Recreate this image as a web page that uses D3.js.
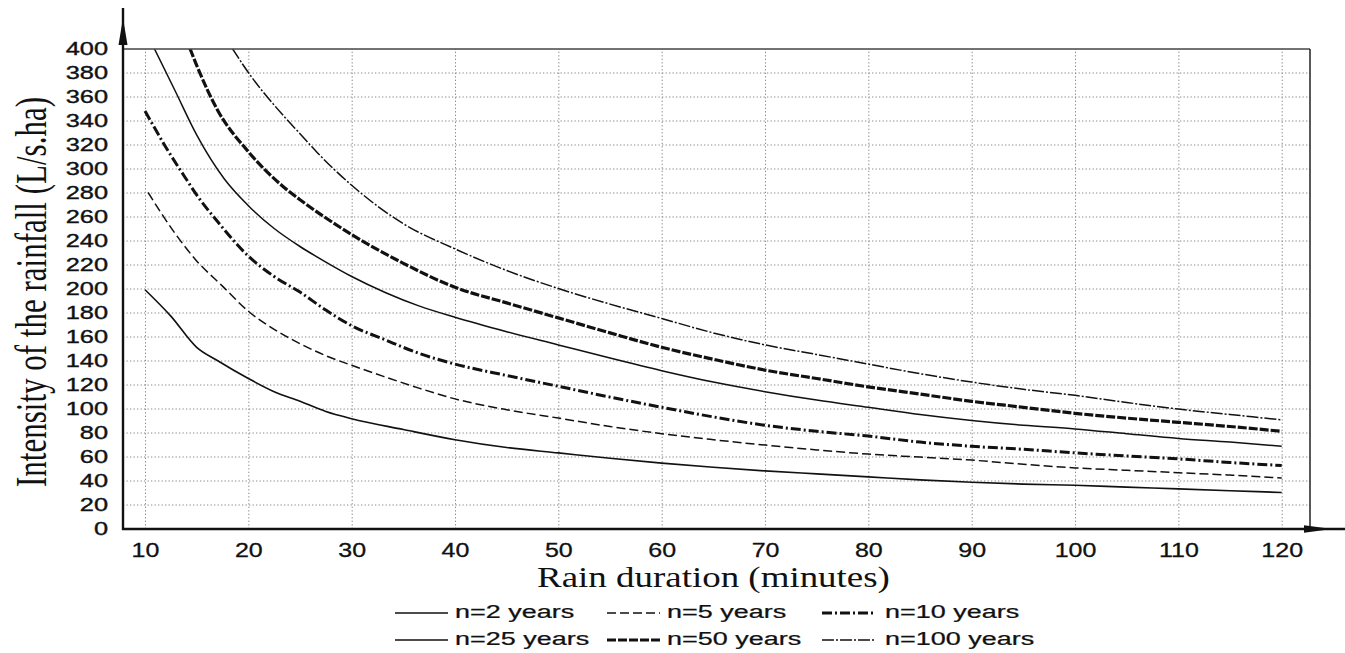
<!DOCTYPE html>
<html><head><meta charset="utf-8">
<script src="https://cdn.jsdelivr.net/npm/d3@7"></script>
<style>html,body{margin:0;padding:0;background:#fff;overflow:hidden}</style>
</head><body>
<svg id="c" width="1345" height="653"></svg>
<script>
// ---------- data ----------
const durationTicks = [10, 20, 30, 40, 50, 60, 70, 80, 90, 100, 110, 120];
const intensityTicks = [0, 20, 40, 60, 80, 100, 120, 140, 160, 180, 200, 220, 240, 260, 280, 300, 320, 340, 360, 380, 400];
const seriesNames = ["n=2 years", "n=5 years", "n=10 years", "n=25 years", "n=50 years", "n=100 years"];
const xTitle = "Rain duration (minutes)";
const yTitle = "Intensity of the rainfall (L/s.ha)";

const t2 = [10, 12.5, 15, 17, 20, 22.5, 25, 27.5, 30, 35, 40, 45, 50, 55, 60, 65, 70, 75, 80, 85, 90, 95, 100, 105, 110, 115, 120];
const v2 = [199, 177, 151, 140, 125, 114, 106, 97.5, 91.5, 82.5, 74, 67.5, 63, 58.5, 54.5, 51, 48, 45.5, 43, 40.5, 38.5, 37, 36, 34.5, 33, 31.5, 30];

const t5 = [10.3, 12.9, 15, 17.5, 20, 22.5, 25, 27.5, 30, 33, 36.5, 40, 45, 50, 55, 60, 65, 70, 75, 80, 85, 90, 95, 100, 105, 110, 115, 120];
const v5 = [280, 246, 223, 202, 181, 166, 154, 144, 136, 127, 117, 108, 99, 92, 85, 79, 74, 69.5, 65.5, 62, 59.5, 57, 53.5, 50.5, 48.5, 46.5, 44.5, 42];

const t10 = [10, 12, 14, 15, 17, 20, 22.5, 25, 27.5, 30, 33.3, 36.5, 40, 45, 50, 55, 60, 65, 70, 75, 80, 85, 90, 95, 100, 105, 110, 115, 120];
const v10 = [348, 318, 291, 278, 256, 227, 210, 197, 182, 169, 157, 146, 137, 127.5, 118.5, 109.5, 101, 93, 86, 81, 77, 72, 68.5, 66, 63, 60.5, 58, 55, 52.5];

const t25 = [10.9, 12.9, 15, 17.7, 20, 22.5, 25, 27.5, 30, 33.3, 36.5, 40, 45, 50, 55, 60, 65, 70, 75, 80, 85, 90, 95, 100, 105, 110, 115, 120];
const v25 = [400, 365, 328, 291, 269, 250, 235, 222, 210, 196.5, 185.5, 176, 164, 153, 142, 131.5, 122, 114, 107, 101, 95, 90, 86, 83, 79, 75, 72, 68.5];

const t50 = [14.35, 15, 17, 20, 23.5, 25, 30, 35, 40, 45, 50, 55, 60, 65, 70, 75, 80, 85, 90, 95, 100, 105, 110, 115, 120];
const v50 = [400, 386, 349, 314, 284, 274, 245, 221, 201, 188, 175.5, 163, 151, 141, 132, 125, 118, 112, 106, 101, 96, 92, 88.5, 85, 81];

const t100 = [18.45, 20, 23.5, 25, 26.7, 30, 35, 40, 45, 50, 55, 60, 65, 70, 75, 80, 85, 90, 95, 100, 105, 110, 115, 120];
const v100 = [400, 380, 343, 329, 313, 286, 254, 233, 215, 200, 187, 175, 163, 153, 145, 137, 129, 122, 116, 111, 105, 99.5, 95, 90.5];

const seriesT = [t2, t5, t10, t25, t50, t100];
const seriesV = [v2, v5, v10, v25, v50, v100];

// ---------- styles ----------
const styles = [
  {w: 1.6, dash: null},
  {w: 1.5, dash: "9,4"},
  {w: 3.0, dash: "10,3,2,3"},
  {w: 1.5, dash: null},
  {w: 3.2, dash: "9,2"},
  {w: 1.5, dash: "12,2,2,2"}
];

const SANS = "'Liberation Sans', Arial, sans-serif";
const SERIF = "'Liberation Serif', 'Times New Roman', serif";
const INK = "#111";

const svg = d3.select("#c");
const L = 123, R = 1310, T = 49, B = 529;
const x = d3.scaleLinear().domain([10, 120]).range([145, 1281.7]);
const y = d3.scaleLinear().domain([0, 400]).range([528.5, 48.5]);

// ---------- grid ----------
svg.append("g")
  .attr("transform", `translate(0,${B})`)
  .call(d3.axisBottom(x).tickValues(durationTicks).tickSize(-(B - T)).tickFormat(""))
  .call(g => {
    g.select(".domain").remove();
    g.selectAll("line").attr("stroke", "#888").attr("stroke-width", 1).attr("stroke-dasharray", "1.3,2.2");
  });
svg.append("g")
  .attr("transform", `translate(${L},0)`)
  .call(d3.axisLeft(y).tickValues(intensityTicks.filter(v => v > 0 && v < 400)).tickSize(-(R - L)).tickFormat(""))
  .call(g => {
    g.select(".domain").remove();
    g.selectAll("line").attr("stroke", "#888").attr("stroke-width", 1).attr("stroke-dasharray", "1.3,2.2");
  });

// ---------- curves ----------
svg.append("clipPath").attr("id", "plot").append("rect")
  .attr("x", L).attr("y", T).attr("width", R - L).attr("height", B - T);

const line = d3.line().x(d => x(d[0])).y(d => y(d[1])).curve(d3.curveMonotoneX);
const curves = svg.append("g").attr("clip-path", "url(#plot)");
seriesT.forEach((ts, i) => {
  const pts = ts.map((t, k) => [t, seriesV[i][k]]);
  curves.append("path")
    .attr("d", line(pts))
    .attr("fill", "none")
    .attr("stroke", INK)
    .attr("stroke-width", styles[i].w)
    .attr("stroke-dasharray", styles[i].dash)
    .attr("stroke-linejoin", "round");
});

// ---------- frame ----------
svg.append("line").attr("x1", L).attr("x2", R).attr("y1", T).attr("y2", T)
  .attr("stroke", "#444").attr("stroke-width", 1.5);
svg.append("line").attr("x1", R).attr("x2", R).attr("y1", T).attr("y2", B)
  .attr("stroke", "#222").attr("stroke-width", 1.5);
// y axis with arrow
svg.append("line").attr("x1", L).attr("x2", L).attr("y1", 8).attr("y2", B + 1)
  .attr("stroke", INK).attr("stroke-width", 2.4);
svg.append("path").attr("d", `M${L},18 L${L - 4.5},45 L${L + 4.5},45 Z`).attr("fill", INK);
// x axis with arrow
svg.append("line").attr("x1", L - 1).attr("x2", 1345).attr("y1", B).attr("y2", B)
  .attr("stroke", INK).attr("stroke-width", 2.4);
svg.append("path").attr("d", `M1304,${B - 3.8} L1332,${B} L1304,${B + 3.8} Z`).attr("fill", INK);

// ---------- tick labels ----------
svg.append("g")
  .attr("transform", `translate(108,0)`)
  .call(d3.axisLeft(y).tickValues(intensityTicks).tickSize(0).tickPadding(0))
  .call(g => {
    g.select(".domain").remove();
    g.selectAll("text")
      .attr("x", 0).attr("dy", "0.36em")
      .attr("transform", "scale(1.45,1)")
      .attr("font-family", SANS).attr("font-size", 17.5).attr("fill", INK)
      .attr("stroke", INK).attr("stroke-width", 0.35)
      .attr("text-anchor", "end");
  });

svg.append("g")
  .attr("transform", `translate(0,557)`)
  .call(d3.axisBottom(x).tickValues(durationTicks).tickSize(0).tickPadding(0))
  .call(g => {
    g.select(".domain").remove();
    g.selectAll("text")
      .attr("y", 0).attr("dy", 0)
      .attr("transform", "scale(1.25,1)")
      .attr("font-family", SANS).attr("font-size", 20).attr("fill", INK)
      .attr("stroke", INK).attr("stroke-width", 0.3)
      .attr("text-anchor", "middle");
  });

// ---------- titles ----------
const xt = svg.append("text")
  .attr("font-family", SERIF).attr("font-size", 30).attr("fill", INK)
  .attr("text-anchor", "middle").text(xTitle);
const xtLen = xt.node().getComputedTextLength();
const xs = 353 / xtLen;
xt.attr("transform", `translate(713.5,587) scale(${xs},1)`);

svg.append("text")
  .attr("font-family", SERIF).attr("font-size", 31).attr("fill", INK)
  .attr("text-anchor", "middle")
  .attr("transform", "translate(46,292) scale(1.45,1) rotate(-90)")
  .text(yTitle);

// ---------- legend ----------
const swX = [395, 607, 822];
const txX = [455, 667, 885];
const rowY = [618, 645];
seriesNames.forEach((name, i) => {
  const row = Math.floor(i / 3), col = i % 3;
  const by = rowY[row];
  svg.append("line")
    .attr("x1", swX[col]).attr("x2", swX[col] + 53)
    .attr("y1", by - 5).attr("y2", by - 5)
    .attr("stroke", INK).attr("stroke-width", styles[i].w)
    .attr("stroke-dasharray", styles[i].dash);
  svg.append("text")
    .attr("transform", `translate(${txX[col]},${by}) scale(1.45,1)`)
    .attr("font-family", SANS).attr("font-size", 18.6).attr("fill", INK)
    .attr("stroke", INK).attr("stroke-width", 0.25)
    .text(name);
});
</script>
</body></html>
